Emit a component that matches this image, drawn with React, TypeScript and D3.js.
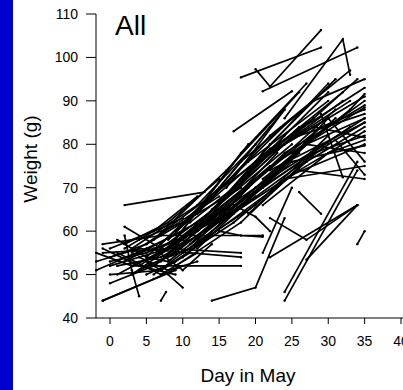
import React, { useEffect, useRef } from 'react';
import * as d3 from 'd3';

// each track = one animal: [day in May, weight (g)] pairs
const earlyTracks: [number, number][][] = [
  [[-1, 44], [6, 49], [10, 52]],
  [[-1, 44], [9, 51]],
  [[-1.9, 53], [4, 56], [18, 54]],
  [[-1.9, 55], [3, 52], [18, 52]],
  [[-1, 57], [7, 59], [21, 59]],
  [[-1, 55], [8, 56], [18, 55]],
  [[0, 54], [5, 57], [10, 62], [18, 70]],
  [[1, 55], [7, 50], [12, 55]],
  [[2, 66], [13, 69]],
  [[2, 61], [7, 56], [15, 66]],
  [[2, 59], [3, 51], [4, 45]],
  [[5, 53], [8, 50], [10, 47]],
  [[7, 44], [7.7, 46]],
  [[-1, 56], [4, 52], [9, 50]],
  [[0, 53], [5, 55], [9, 58]],
  [[1, 58], [5, 54], [8, 53]],
  [[2, 56], [6, 60], [10, 63]],
  [[3, 52], [7, 55], [11, 58]],
  [[4, 54], [8, 51], [12, 53]],
  [[5, 50], [9, 53], [13, 58]],
  [[6, 56], [10, 51], [14, 57]],
  [[7, 53], [11, 60], [16, 64]],
  [[-1.9, 51], [5, 56], [10, 60]],
  [[0, 50], [7, 51], [11, 55]],
  [[4, 58], [10, 62]],
  [[2, 54], [8, 57], [14, 62]],
  [[3, 50], [9, 57], [16, 68]],
  [[2, 57], [8, 62], [15, 72]],
  [[0, 56], [6, 60], [12, 68]],
  [[1, 52], [7, 54], [13, 60], [20, 68]],
  [[5, 52], [11, 56], [19, 70]],
];

const bandTracks: [number, number][][] = [
  [[0, 52], [8, 56], [20, 72]],
  [[1, 50], [10, 58], [22, 75]],
  [[2, 53], [12, 62], [25, 80]],
  [[0, 48], [6, 52], [18, 66]],
  [[3, 55], [15, 68]],
  [[4, 51], [9, 55], [23, 74]],
  [[5, 57], [17, 72], [28, 86]],
  [[6, 54], [20, 70]],
  [[6, 50], [14, 60], [26, 78]],
  [[7, 55], [13, 63], [24, 82]],
  [[8, 58], [19, 76], [30, 90]],
  [[8, 53], [21, 70], [33, 84]],
  [[9, 56], [18, 68]],
  [[9, 60], [22, 79], [35, 93]],
  [[10, 54], [25, 76]],
  [[10, 58], [16, 66], [29, 84]],
  [[11, 57], [24, 78], [35, 89]],
  [[11, 62], [20, 74]],
  [[12, 56], [27, 80], [35, 86]],
  [[12, 60], [23, 76], [31, 88]],
  [[13, 63], [21, 77], [32, 92]],
  [[13, 58], [26, 74], [35, 83]],
  [[14, 61], [28, 82]],
  [[14, 65], [24, 80], [35, 91]],
  [[15, 62], [25, 73], [35, 80]],
  [[15, 66], [27, 85]],
  [[16, 63], [30, 80], [35, 85]],
  [[16, 68], [22, 78], [33, 90]],
  [[17, 64], [29, 84], [35, 88]],
  [[17, 70], [26, 84]],
  [[18, 66], [31, 86]],
  [[18, 72], [30, 92]],
  [[19, 68], [28, 78], [35, 82]],
  [[19, 74], [32, 90]],
  [[20, 70], [35, 86]],
  [[20, 76], [30, 86]],
  [[21, 72], [33, 88], [35, 91.6]],
  [[22, 74], [35, 85]],
  [[22, 80], [31, 95]],
  [[23, 76], [35, 88.5]],
  [[24, 80], [34, 95]],
  [[25, 78], [35, 90]],
  [[26, 82], [35, 87]],
  [[27, 80], [35, 78]],
  [[28, 84], [35, 81.6]],
  [[30, 86], [35, 76]],
  [[25, 76], [35, 79.7]],
  [[24, 72], [35, 75]],
  [[26, 74], [35, 72]],
  [[15, 60], [18, 59], [21, 58.7]],
  [[17, 66], [20, 63.3], [22, 60]],
  [[3, 56], [12, 66], [20, 80]],
  [[5, 54], [14, 68], [24, 88]],
  [[6, 58], [16, 74], [26, 92]],
  [[7, 57], [15, 70], [22, 84]],
  [[8, 56], [18, 78], [27, 94]],
  [[9, 58], [19, 80]],
  [[4, 52], [13, 62], [22, 80]],
  [[11, 59], [21, 78], [30, 94]],
  [[6, 52], [15, 64], [23, 78]],
  [[12, 64], [22, 82], [33, 97]],
  [[13, 60], [22, 72], [30, 86]],
  [[14, 68], [25, 86]],
  [[16, 70], [24, 88]],
  [[18, 76], [28, 90], [35, 95]],
  [[7, 51], [17, 62], [27, 76]],
  [[9, 52], [18, 62], [28, 78]],
  [[10, 55], [20, 66], [30, 82]],
  [[19, 64], [27, 76], [35, 84]],
  [[21, 66], [30, 78], [35, 81]],
];

const outlierTracks: [number, number][][] = [
  [[18, 95.4], [29, 102.3]],
  [[20, 97.3], [22, 93.3], [29, 106.3]],
  [[21, 92.2], [34, 102.3]],
  [[24, 86], [32, 104.2], [33, 96]],
  [[17, 83], [25, 92.2]],
  [[26, 69], [29, 64]],
  [[22, 63], [27, 58], [34, 66]],
  [[14, 44], [20, 47], [24, 63]],
  [[24, 46], [34, 76]],
  [[24, 44], [34, 74]],
  [[27, 53.4], [34, 66]],
  [[34, 57], [35, 60]],
  [[21, 55], [25, 70]],
  [[22, 54], [34, 66]],
  [[29, 87], [32, 72.4]],
  [[31, 81], [35, 73]],
];

const xTicks = [0, 5, 10, 15, 20, 25, 30, 35, 40];
const yTicks = [40, 50, 60, 70, 80, 90, 100, 110];

const W = 403;
const H = 390;
const font = 'Liberation Sans, Arial, Helvetica, sans-serif';

export default function App() {
  const svgRef = useRef<SVGSVGElement>(null);

  useEffect(() => {
    const svg = d3.select(svgRef.current);
    svg.selectAll('*').remove();

    const xScale = d3.scaleLinear().domain([0, 40]).range([110, 401]);
    const yScale = d3.scaleLinear().domain([40, 110]).range([318, 14]);
    const axisX = 96;
    const axisY = yScale(40);

    svg.append('rect').attr('width', W).attr('height', H).attr('fill', 'white');
    // blue strip on the left edge
    svg.append('rect').attr('x', 0).attr('y', 0).attr('width', 13).attr('height', H).attr('fill', '#0000CC');

    const tracks = [...earlyTracks, ...bandTracks, ...outlierTracks];
    const line = d3.line<[number, number]>()
      .x(d => xScale(d[0]))
      .y(d => yScale(d[1]));

    const g = svg.append('g');
    g.selectAll('path.track')
      .data(tracks)
      .enter().append('path')
      .attr('class', 'track')
      .attr('d', d => line(d))
      .attr('fill', 'none')
      .attr('stroke', 'black')
      .attr('stroke-width', 1.7);

    g.selectAll('circle')
      .data(tracks.flat())
      .enter().append('circle')
      .attr('cx', d => xScale(d[0]))
      .attr('cy', d => yScale(d[1]))
      .attr('r', 1.2)
      .attr('fill', 'black');

    // y axis
    svg.append('line')
      .attr('x1', axisX).attr('x2', axisX)
      .attr('y1', yScale(110)).attr('y2', axisY)
      .attr('stroke', 'black');
    const yt = svg.selectAll('g.ytick').data(yTicks).enter().append('g').attr('class', 'ytick');
    yt.append('line')
      .attr('x1', axisX - 10).attr('x2', axisX)
      .attr('y1', d => yScale(d)).attr('y2', d => yScale(d))
      .attr('stroke', 'black');
    yt.append('text')
      .attr('x', 78)
      .attr('y', d => yScale(d) + 5)
      .attr('text-anchor', 'end')
      .attr('font-family', font)
      .attr('font-size', 14)
      .text(d => d);

    // x axis
    svg.append('line')
      .attr('x1', axisX).attr('x2', W)
      .attr('y1', axisY).attr('y2', axisY)
      .attr('stroke', 'black');
    const xt = svg.selectAll('g.xtick').data(xTicks).enter().append('g').attr('class', 'xtick');
    xt.append('line')
      .attr('x1', d => xScale(d)).attr('x2', d => xScale(d))
      .attr('y1', axisY).attr('y2', axisY + 6)
      .attr('stroke', 'black');
    xt.append('text')
      .attr('x', d => xScale(d))
      .attr('y', 346)
      .attr('text-anchor', 'middle')
      .attr('font-family', font)
      .attr('font-size', 14)
      .text(d => d);

    svg.append('text')
      .attr('x', 248).attr('y', 382)
      .attr('text-anchor', 'middle')
      .attr('font-family', font)
      .attr('font-size', 19)
      .text('Day in May');

    svg.append('text')
      .attr('transform', 'translate(37,159) rotate(-90)')
      .attr('text-anchor', 'middle')
      .attr('font-family', font)
      .attr('font-size', 19)
      .text('Weight (g)');

    svg.append('text')
      .attr('x', 115).attr('y', 35)
      .attr('font-family', font)
      .attr('font-size', 28)
      .text('All');
  }, []);

  return (
    <svg ref={svgRef} width={W} height={H} style={{ position: 'absolute', left: 0, top: 0, display: 'block' }} />
  );
}
